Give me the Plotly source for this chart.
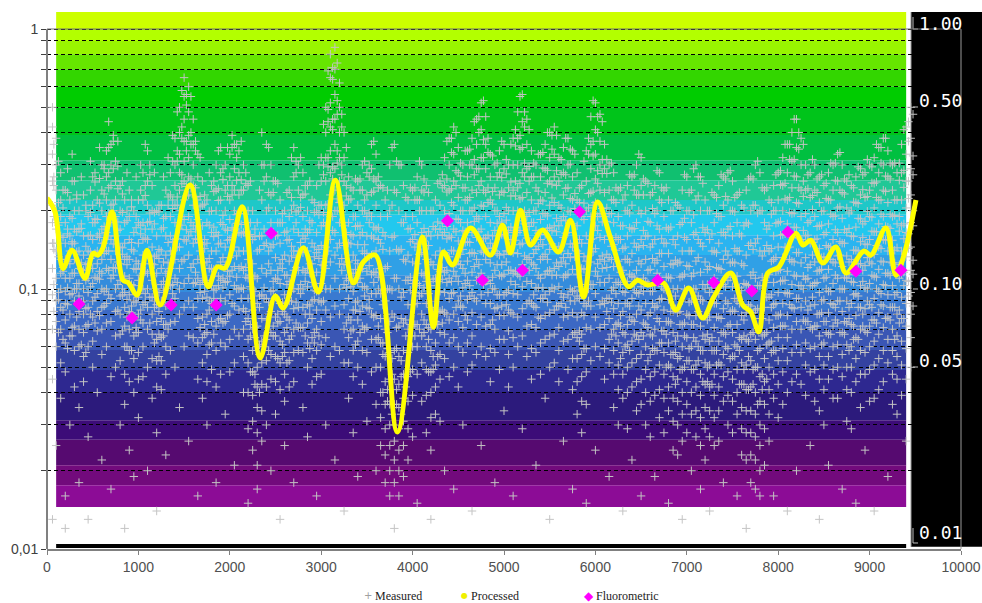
import plotly.graph_objects as go

# ---------------- data ----------------
proc_x = [0, 88, 175, 274, 416, 504, 559, 613, 712, 832, 887, 986, 1095, 1238, 1566, 1763, 1862, 1950,
          2136, 2333, 2497, 2585, 2804, 2968, 3154, 3352, 3461, 3593, 3834, 4107, 4228, 4337, 4436, 4633,
          4852, 4984, 5071, 5181, 5290, 5422, 5597, 5728, 5871, 6024, 6166, 6363, 6462, 6572, 6747, 6879,
          7021, 7174, 7295, 7481, 7612, 7700, 7788, 7886, 8007, 8193, 8270, 8357, 8489, 8631, 8741, 8938,
          9014, 9178, 9288, 9376, 9507]
proc_y = [0.224, 0.198, 0.120, 0.141, 0.110, 0.137, 0.135, 0.144, 0.198, 0.108, 0.106, 0.0948, 0.141,
          0.0868, 0.251, 0.102, 0.1216, 0.1205, 0.207, 0.0543, 0.094, 0.0845, 0.144, 0.0974, 0.262, 0.1055,
          0.127, 0.135, 0.0282, 0.1585, 0.0714, 0.1388, 0.1237, 0.1717, 0.135, 0.176, 0.1375, 0.201, 0.1476,
          0.1686, 0.1388, 0.184, 0.0931, 0.216, 0.157, 0.102, 0.108, 0.1036, 0.1055, 0.083, 0.1009, 0.0773,
          0.0931, 0.1153, 0.0868, 0.0816, 0.0684, 0.1153, 0.1216, 0.164, 0.1476, 0.154, 0.126, 0.145, 0.1153,
          0.14, 0.135, 0.1717, 0.113, 0.135, 0.22]

fluor_x = [350, 931, 1358, 1851, 2453, 4381, 4764, 5203, 5827, 6681, 7295, 7711, 8105, 8850, 9343]
fluor_y = [0.0875, 0.0773, 0.0868, 0.0868, 0.164, 0.183, 0.108, 0.118, 0.198, 0.108, 0.106, 0.0982,
           0.1656, 0.117, 0.118]

measured_columns = [
    (60, [0.5, 0.42, 0.33, 0.26, 0.21, 0.18, 0.15, 0.12, 0.095, 0.07, 0.045, 0.013]),
    (100, [0.38, 0.3, 0.24, 0.2, 0.17, 0.14, 0.11, 0.09, 0.075, 0.06, 0.025]),
    (150, [0.28, 0.22, 0.19, 0.16, 0.13, 0.115, 0.1, 0.085, 0.07, 0.052, 0.038]),
    (200, [0.24, 0.18, 0.15, 0.13, 0.11, 0.098, 0.088, 0.076, 0.062, 0.048, 0.016, 0.012]),
    (250, [0.22, 0.19, 0.16, 0.14, 0.125, 0.11, 0.095, 0.08, 0.066, 0.03]),
    (300, [0.26, 0.2, 0.17, 0.15, 0.13, 0.115, 0.1, 0.09, 0.072, 0.058, 0.042]),
    (350, [0.2, 0.17, 0.14, 0.12, 0.105, 0.094, 0.082, 0.07, 0.06, 0.035, 0.018]),
    (400, [0.23, 0.16, 0.135, 0.118, 0.1, 0.09, 0.08, 0.068, 0.055, 0.044]),
    (450, [0.19, 0.16, 0.14, 0.125, 0.11, 0.097, 0.085, 0.073, 0.06, 0.027, 0.013]),
    (500, [0.27, 0.21, 0.18, 0.155, 0.135, 0.12, 0.105, 0.09, 0.078, 0.063, 0.05]),
    (550, [0.22, 0.185, 0.16, 0.14, 0.125, 0.11, 0.096, 0.082, 0.069, 0.04]),
    (600, [0.3, 0.24, 0.2, 0.17, 0.15, 0.13, 0.115, 0.1, 0.085, 0.07, 0.056, 0.022]),
    (650, [0.34, 0.27, 0.22, 0.19, 0.165, 0.14, 0.12, 0.1, 0.088, 0.074, 0.06]),
    (700, [0.36, 0.3, 0.25, 0.21, 0.18, 0.155, 0.13, 0.11, 0.092, 0.075, 0.046, 0.017]),
    (750, [0.31, 0.26, 0.22, 0.19, 0.16, 0.14, 0.12, 0.1, 0.082, 0.066, 0.05]),
    (800, [0.25, 0.2, 0.17, 0.145, 0.125, 0.108, 0.094, 0.08, 0.067, 0.053, 0.03]),
    (850, [0.22, 0.18, 0.15, 0.13, 0.112, 0.097, 0.085, 0.072, 0.06, 0.047, 0.036, 0.012]),
    (900, [0.24, 0.19, 0.155, 0.13, 0.11, 0.095, 0.082, 0.07, 0.058, 0.044, 0.024]),
    (950, [0.2, 0.165, 0.14, 0.12, 0.103, 0.09, 0.078, 0.066, 0.054, 0.04, 0.019]),
    (1000, [0.22, 0.18, 0.15, 0.125, 0.108, 0.093, 0.08, 0.068, 0.057, 0.045, 0.032]),
    (1050, [0.28, 0.22, 0.18, 0.155, 0.135, 0.115, 0.1, 0.087, 0.074, 0.06, 0.046]),
    (1100, [0.34, 0.26, 0.21, 0.18, 0.155, 0.135, 0.115, 0.1, 0.085, 0.07, 0.05, 0.02]),
    (1150, [0.25, 0.2, 0.17, 0.145, 0.125, 0.108, 0.093, 0.08, 0.067, 0.054, 0.038]),
    (1200, [0.2, 0.16, 0.135, 0.115, 0.1, 0.087, 0.075, 0.064, 0.053, 0.042, 0.028, 0.014]),
    (1250, [0.21, 0.17, 0.14, 0.12, 0.104, 0.09, 0.077, 0.065, 0.053, 0.041]),
    (1300, [0.24, 0.19, 0.16, 0.135, 0.115, 0.1, 0.086, 0.073, 0.06, 0.047, 0.023]),
    (1350, [0.28, 0.23, 0.19, 0.16, 0.14, 0.12, 0.103, 0.088, 0.074, 0.058]),
    (1400, [0.38, 0.3, 0.25, 0.21, 0.18, 0.155, 0.13, 0.11, 0.092, 0.075, 0.05]),
    (1450, [0.5, 0.4, 0.33, 0.28, 0.24, 0.2, 0.17, 0.145, 0.12, 0.1, 0.08, 0.035]),
    (1500, [0.65, 0.55, 0.45, 0.37, 0.31, 0.26, 0.22, 0.185, 0.155, 0.13, 0.105, 0.085, 0.06]),
    (1550, [0.6, 0.48, 0.39, 0.32, 0.27, 0.23, 0.19, 0.16, 0.135, 0.11, 0.09, 0.066, 0.026]),
    (1600, [0.45, 0.36, 0.3, 0.25, 0.21, 0.175, 0.15, 0.125, 0.105, 0.085, 0.065]),
    (1650, [0.33, 0.27, 0.22, 0.185, 0.155, 0.13, 0.11, 0.092, 0.077, 0.062, 0.045, 0.016]),
    (1700, [0.26, 0.21, 0.175, 0.148, 0.126, 0.108, 0.092, 0.078, 0.065, 0.052, 0.038]),
    (1750, [0.22, 0.18, 0.15, 0.127, 0.108, 0.093, 0.08, 0.068, 0.056, 0.044, 0.03]),
    (1800, [0.25, 0.2, 0.165, 0.14, 0.12, 0.103, 0.088, 0.075, 0.062, 0.049]),
    (1850, [0.3, 0.24, 0.2, 0.165, 0.14, 0.12, 0.1, 0.086, 0.072, 0.058, 0.042, 0.018]),
    (1900, [0.35, 0.28, 0.22, 0.18, 0.15, 0.127, 0.108, 0.092, 0.077, 0.062, 0.047]),
    (1950, [0.3, 0.24, 0.2, 0.17, 0.145, 0.124, 0.106, 0.09, 0.075, 0.06, 0.033]),
    (2000, [0.33, 0.27, 0.22, 0.185, 0.155, 0.132, 0.112, 0.095, 0.08, 0.064, 0.048]),
    (2050, [0.36, 0.29, 0.24, 0.2, 0.17, 0.145, 0.122, 0.103, 0.086, 0.07, 0.052, 0.021]),
    (2100, [0.34, 0.28, 0.23, 0.195, 0.165, 0.14, 0.12, 0.1, 0.083, 0.066]),
    (2150, [0.3, 0.24, 0.2, 0.165, 0.14, 0.118, 0.1, 0.084, 0.07, 0.055, 0.04]),
    (2200, [0.25, 0.2, 0.16, 0.13, 0.11, 0.092, 0.077, 0.064, 0.052, 0.04, 0.029, 0.015]),
    (2250, [0.2, 0.155, 0.125, 0.1, 0.083, 0.07, 0.058, 0.048, 0.039, 0.031, 0.024]),
    (2300, [0.18, 0.14, 0.11, 0.088, 0.072, 0.06, 0.05, 0.042, 0.035, 0.028, 0.021, 0.017]),
    (2350, [0.4, 0.3, 0.22, 0.16, 0.12, 0.095, 0.077, 0.063, 0.052, 0.043, 0.034, 0.026]),
    (2400, [0.36, 0.27, 0.2, 0.15, 0.115, 0.092, 0.076, 0.064, 0.053, 0.042, 0.03]),
    (2450, [0.3, 0.23, 0.18, 0.145, 0.118, 0.098, 0.082, 0.068, 0.056, 0.045, 0.02]),
    (2500, [0.26, 0.2, 0.16, 0.132, 0.11, 0.093, 0.078, 0.066, 0.055, 0.044, 0.033]),
    (2550, [0.22, 0.18, 0.15, 0.125, 0.105, 0.088, 0.075, 0.063, 0.052, 0.041, 0.013]),
    (2600, [0.2, 0.165, 0.135, 0.113, 0.095, 0.08, 0.068, 0.057, 0.047, 0.037, 0.025]),
    (2650, [0.24, 0.19, 0.155, 0.128, 0.107, 0.09, 0.076, 0.064, 0.053, 0.042]),
    (2700, [0.35, 0.27, 0.21, 0.17, 0.14, 0.118, 0.1, 0.084, 0.07, 0.057, 0.044, 0.018]),
    (2750, [0.3, 0.24, 0.2, 0.165, 0.14, 0.118, 0.1, 0.085, 0.071, 0.058]),
    (2800, [0.28, 0.23, 0.19, 0.16, 0.138, 0.118, 0.1, 0.085, 0.071, 0.057, 0.035]),
    (2850, [0.25, 0.2, 0.165, 0.14, 0.12, 0.102, 0.087, 0.074, 0.062, 0.05, 0.027]),
    (2900, [0.22, 0.18, 0.15, 0.125, 0.106, 0.09, 0.077, 0.065, 0.054, 0.043]),
    (2950, [0.25, 0.2, 0.165, 0.138, 0.116, 0.098, 0.083, 0.07, 0.058, 0.046, 0.016]),
    (3000, [0.32, 0.26, 0.21, 0.175, 0.147, 0.124, 0.105, 0.089, 0.075, 0.061, 0.047]),
    (3050, [0.5, 0.4, 0.32, 0.26, 0.21, 0.175, 0.145, 0.12, 0.1, 0.083, 0.065, 0.03]),
    (3100, [0.8, 0.65, 0.52, 0.42, 0.34, 0.28, 0.23, 0.19, 0.155, 0.127, 0.1, 0.078, 0.055]),
    (3150, [0.85, 0.7, 0.56, 0.45, 0.36, 0.29, 0.24, 0.2, 0.165, 0.135, 0.11, 0.086, 0.06, 0.022]),
    (3200, [0.62, 0.5, 0.4, 0.32, 0.26, 0.215, 0.18, 0.15, 0.125, 0.1, 0.08, 0.058]),
    (3250, [0.4, 0.32, 0.26, 0.21, 0.175, 0.147, 0.124, 0.104, 0.087, 0.07, 0.052, 0.014]),
    (3300, [0.27, 0.22, 0.18, 0.15, 0.127, 0.108, 0.092, 0.078, 0.065, 0.052, 0.038]),
    (3350, [0.24, 0.19, 0.16, 0.135, 0.115, 0.098, 0.083, 0.07, 0.058, 0.046, 0.028]),
    (3400, [0.26, 0.21, 0.175, 0.148, 0.125, 0.106, 0.09, 0.076, 0.063, 0.05, 0.019]),
    (3450, [0.3, 0.24, 0.2, 0.165, 0.14, 0.12, 0.102, 0.086, 0.072, 0.058, 0.043]),
    (3500, [0.28, 0.23, 0.19, 0.16, 0.137, 0.117, 0.1, 0.085, 0.071, 0.057, 0.031]),
    (3550, [0.36, 0.29, 0.235, 0.19, 0.16, 0.135, 0.114, 0.096, 0.08, 0.064, 0.048]),
    (3600, [0.33, 0.26, 0.21, 0.17, 0.14, 0.116, 0.096, 0.079, 0.064, 0.05, 0.036, 0.02]),
    (3650, [0.25, 0.19, 0.15, 0.12, 0.096, 0.077, 0.062, 0.05, 0.04, 0.032, 0.025]),
    (3700, [0.22, 0.16, 0.12, 0.09, 0.07, 0.055, 0.044, 0.036, 0.029, 0.023, 0.018]),
    (3750, [0.3, 0.2, 0.14, 0.1, 0.075, 0.057, 0.045, 0.036, 0.03, 0.025, 0.02, 0.016]),
    (3800, [0.36, 0.24, 0.16, 0.11, 0.078, 0.058, 0.045, 0.036, 0.03, 0.026, 0.022, 0.018, 0.012]),
    (3850, [0.3, 0.2, 0.14, 0.1, 0.072, 0.055, 0.043, 0.035, 0.029, 0.024, 0.02, 0.016]),
    (3900, [0.25, 0.18, 0.13, 0.097, 0.074, 0.058, 0.047, 0.038, 0.031, 0.025, 0.019]),
    (3950, [0.22, 0.17, 0.135, 0.108, 0.087, 0.07, 0.057, 0.046, 0.037, 0.029, 0.022]),
    (4000, [0.24, 0.19, 0.155, 0.127, 0.105, 0.087, 0.072, 0.06, 0.049, 0.039, 0.027]),
    (4050, [0.27, 0.22, 0.18, 0.15, 0.125, 0.105, 0.088, 0.073, 0.06, 0.047, 0.015]),
    (4100, [0.3, 0.24, 0.2, 0.165, 0.138, 0.115, 0.096, 0.08, 0.066, 0.052, 0.037]),
    (4150, [0.25, 0.2, 0.16, 0.13, 0.107, 0.088, 0.073, 0.06, 0.049, 0.039, 0.028]),
    (4200, [0.2, 0.16, 0.127, 0.103, 0.085, 0.07, 0.058, 0.048, 0.04, 0.032, 0.024, 0.013]),
    (4250, [0.22, 0.17, 0.135, 0.11, 0.09, 0.075, 0.062, 0.051, 0.042, 0.033]),
    (4300, [0.26, 0.21, 0.17, 0.14, 0.117, 0.098, 0.082, 0.068, 0.056, 0.045, 0.031]),
    (4350, [0.32, 0.25, 0.2, 0.165, 0.138, 0.116, 0.097, 0.081, 0.067, 0.054, 0.02]),
    (4400, [0.38, 0.3, 0.24, 0.195, 0.16, 0.133, 0.11, 0.092, 0.076, 0.062, 0.046]),
    (4450, [0.42, 0.33, 0.26, 0.21, 0.17, 0.14, 0.117, 0.097, 0.08, 0.065, 0.05, 0.017]),
    (4500, [0.35, 0.28, 0.225, 0.185, 0.153, 0.128, 0.107, 0.09, 0.075, 0.06, 0.042]),
    (4550, [0.3, 0.245, 0.2, 0.168, 0.142, 0.12, 0.101, 0.085, 0.071, 0.057, 0.03]),
    (4600, [0.34, 0.27, 0.22, 0.18, 0.152, 0.128, 0.108, 0.091, 0.076, 0.062, 0.048]),
    (4650, [0.38, 0.3, 0.24, 0.2, 0.165, 0.138, 0.116, 0.097, 0.081, 0.066, 0.051, 0.014]),
    (4700, [0.45, 0.36, 0.29, 0.235, 0.19, 0.158, 0.13, 0.108, 0.09, 0.073, 0.056]),
    (4750, [0.52, 0.41, 0.32, 0.26, 0.21, 0.17, 0.14, 0.115, 0.095, 0.078, 0.06, 0.025]),
    (4800, [0.46, 0.36, 0.29, 0.235, 0.19, 0.157, 0.13, 0.107, 0.088, 0.072, 0.055]),
    (4850, [0.33, 0.27, 0.22, 0.18, 0.15, 0.126, 0.105, 0.088, 0.073, 0.059, 0.044]),
    (4900, [0.3, 0.245, 0.2, 0.168, 0.14, 0.118, 0.1, 0.084, 0.07, 0.057, 0.018]),
    (4950, [0.34, 0.28, 0.23, 0.19, 0.16, 0.135, 0.113, 0.095, 0.079, 0.064, 0.049]),
    (5000, [0.36, 0.29, 0.235, 0.195, 0.162, 0.136, 0.114, 0.095, 0.079, 0.064, 0.034]),
    (5050, [0.3, 0.245, 0.2, 0.168, 0.14, 0.118, 0.099, 0.083, 0.069, 0.056, 0.042]),
    (5100, [0.38, 0.3, 0.24, 0.2, 0.165, 0.138, 0.115, 0.096, 0.08, 0.065, 0.05, 0.016]),
    (5150, [0.48, 0.38, 0.3, 0.245, 0.2, 0.165, 0.137, 0.114, 0.095, 0.078, 0.06]),
    (5200, [0.56, 0.44, 0.35, 0.28, 0.225, 0.183, 0.15, 0.124, 0.102, 0.084, 0.066, 0.029]),
    (5250, [0.45, 0.36, 0.29, 0.235, 0.19, 0.157, 0.13, 0.107, 0.088, 0.072, 0.055]),
    (5300, [0.34, 0.27, 0.22, 0.18, 0.15, 0.126, 0.105, 0.088, 0.073, 0.059, 0.045]),
    (5350, [0.3, 0.245, 0.2, 0.168, 0.142, 0.12, 0.101, 0.085, 0.071, 0.057, 0.021]),
    (5400, [0.33, 0.27, 0.22, 0.185, 0.155, 0.13, 0.11, 0.092, 0.077, 0.062, 0.047]),
    (5450, [0.36, 0.29, 0.235, 0.195, 0.162, 0.136, 0.114, 0.095, 0.079, 0.064, 0.038]),
    (5500, [0.4, 0.32, 0.26, 0.21, 0.172, 0.142, 0.118, 0.098, 0.081, 0.066, 0.05, 0.013]),
    (5550, [0.42, 0.33, 0.27, 0.215, 0.175, 0.145, 0.12, 0.1, 0.083, 0.067, 0.052]),
    (5600, [0.32, 0.26, 0.21, 0.175, 0.146, 0.122, 0.102, 0.086, 0.071, 0.058, 0.044]),
    (5650, [0.35, 0.28, 0.23, 0.19, 0.158, 0.132, 0.111, 0.093, 0.078, 0.063, 0.026]),
    (5700, [0.38, 0.3, 0.245, 0.2, 0.165, 0.137, 0.114, 0.095, 0.079, 0.064, 0.049]),
    (5750, [0.34, 0.27, 0.22, 0.178, 0.145, 0.119, 0.098, 0.081, 0.067, 0.054, 0.041, 0.017]),
    (5800, [0.28, 0.22, 0.175, 0.14, 0.114, 0.094, 0.078, 0.065, 0.054, 0.044, 0.033]),
    (5850, [0.25, 0.19, 0.15, 0.12, 0.098, 0.081, 0.067, 0.056, 0.046, 0.037, 0.028]),
    (5900, [0.34, 0.26, 0.2, 0.16, 0.128, 0.104, 0.086, 0.071, 0.059, 0.048, 0.036, 0.015]),
    (5950, [0.46, 0.36, 0.29, 0.235, 0.19, 0.155, 0.127, 0.104, 0.086, 0.07, 0.053]),
    (6000, [0.52, 0.41, 0.33, 0.265, 0.215, 0.175, 0.143, 0.117, 0.096, 0.078, 0.06, 0.024]),
    (6050, [0.47, 0.37, 0.3, 0.24, 0.195, 0.158, 0.13, 0.106, 0.087, 0.071, 0.055]),
    (6100, [0.36, 0.29, 0.235, 0.19, 0.155, 0.128, 0.106, 0.088, 0.073, 0.059, 0.045]),
    (6150, [0.3, 0.24, 0.195, 0.16, 0.132, 0.11, 0.092, 0.077, 0.064, 0.052, 0.019]),
    (6200, [0.28, 0.22, 0.18, 0.148, 0.122, 0.101, 0.084, 0.07, 0.058, 0.047, 0.035]),
    (6250, [0.24, 0.19, 0.155, 0.128, 0.106, 0.088, 0.074, 0.062, 0.051, 0.041, 0.03]),
    (6300, [0.22, 0.175, 0.143, 0.118, 0.098, 0.082, 0.068, 0.057, 0.047, 0.038, 0.014]),
    (6350, [0.25, 0.2, 0.16, 0.13, 0.107, 0.088, 0.073, 0.061, 0.05, 0.04, 0.029]),
    (6400, [0.27, 0.21, 0.17, 0.137, 0.112, 0.092, 0.076, 0.063, 0.052, 0.042, 0.022]),
    (6450, [0.3, 0.23, 0.18, 0.145, 0.118, 0.097, 0.08, 0.066, 0.054, 0.044, 0.034]),
    (6500, [0.32, 0.25, 0.195, 0.155, 0.125, 0.102, 0.083, 0.068, 0.056, 0.045, 0.036, 0.016]),
    (6550, [0.26, 0.2, 0.16, 0.13, 0.107, 0.088, 0.073, 0.06, 0.049, 0.04, 0.03]),
    (6600, [0.23, 0.18, 0.145, 0.119, 0.098, 0.081, 0.067, 0.056, 0.046, 0.037, 0.027]),
    (6650, [0.25, 0.195, 0.155, 0.126, 0.103, 0.085, 0.07, 0.058, 0.048, 0.039, 0.019]),
    (6700, [0.28, 0.22, 0.17, 0.137, 0.111, 0.091, 0.075, 0.062, 0.051, 0.041, 0.032]),
    (6750, [0.24, 0.19, 0.15, 0.122, 0.1, 0.083, 0.069, 0.057, 0.047, 0.038, 0.028]),
    (6800, [0.22, 0.17, 0.137, 0.111, 0.091, 0.075, 0.062, 0.051, 0.042, 0.034, 0.015]),
    (6850, [0.2, 0.155, 0.124, 0.1, 0.082, 0.068, 0.056, 0.046, 0.038, 0.031, 0.024]),
    (6900, [0.21, 0.16, 0.126, 0.1, 0.081, 0.066, 0.054, 0.045, 0.037, 0.03, 0.023]),
    (6950, [0.24, 0.18, 0.14, 0.112, 0.09, 0.073, 0.06, 0.049, 0.04, 0.033, 0.026, 0.013]),
    (7000, [0.27, 0.2, 0.155, 0.123, 0.099, 0.08, 0.065, 0.053, 0.044, 0.036, 0.028]),
    (7050, [0.24, 0.18, 0.14, 0.112, 0.09, 0.073, 0.06, 0.049, 0.04, 0.033, 0.02]),
    (7100, [0.3, 0.22, 0.165, 0.128, 0.1, 0.079, 0.063, 0.051, 0.042, 0.034, 0.027]),
    (7150, [0.27, 0.2, 0.15, 0.116, 0.091, 0.072, 0.058, 0.047, 0.039, 0.032, 0.025, 0.017]),
    (7200, [0.22, 0.165, 0.127, 0.1, 0.079, 0.064, 0.052, 0.043, 0.035, 0.029, 0.022]),
    (7250, [0.2, 0.155, 0.122, 0.097, 0.078, 0.063, 0.051, 0.042, 0.034, 0.027, 0.014]),
    (7300, [0.23, 0.18, 0.14, 0.11, 0.088, 0.071, 0.058, 0.047, 0.039, 0.032, 0.025]),
    (7350, [0.25, 0.19, 0.15, 0.12, 0.096, 0.078, 0.063, 0.052, 0.042, 0.034, 0.026]),
    (7400, [0.27, 0.21, 0.165, 0.13, 0.104, 0.084, 0.068, 0.056, 0.046, 0.037, 0.018]),
    (7450, [0.28, 0.22, 0.17, 0.135, 0.108, 0.088, 0.072, 0.059, 0.048, 0.039, 0.03]),
    (7500, [0.26, 0.2, 0.16, 0.127, 0.102, 0.083, 0.068, 0.055, 0.045, 0.037, 0.028]),
    (7550, [0.23, 0.18, 0.14, 0.112, 0.09, 0.073, 0.06, 0.049, 0.04, 0.033, 0.016]),
    (7600, [0.21, 0.16, 0.125, 0.099, 0.079, 0.064, 0.052, 0.043, 0.035, 0.029, 0.023]),
    (7650, [0.24, 0.18, 0.135, 0.104, 0.081, 0.064, 0.051, 0.041, 0.034, 0.028, 0.022, 0.012]),
    (7700, [0.27, 0.2, 0.15, 0.113, 0.086, 0.067, 0.053, 0.042, 0.034, 0.028, 0.023, 0.018]),
    (7750, [0.3, 0.21, 0.15, 0.11, 0.083, 0.064, 0.05, 0.04, 0.033, 0.027, 0.022, 0.017]),
    (7800, [0.28, 0.2, 0.14, 0.103, 0.077, 0.059, 0.046, 0.037, 0.03, 0.025, 0.02, 0.016]),
    (7850, [0.24, 0.18, 0.14, 0.108, 0.085, 0.067, 0.054, 0.044, 0.036, 0.029, 0.021]),
    (7900, [0.22, 0.175, 0.14, 0.114, 0.093, 0.076, 0.062, 0.05, 0.041, 0.033, 0.026]),
    (7950, [0.25, 0.2, 0.16, 0.13, 0.106, 0.087, 0.071, 0.058, 0.047, 0.038, 0.016]),
    (8000, [0.28, 0.22, 0.18, 0.145, 0.118, 0.097, 0.079, 0.065, 0.053, 0.043, 0.032]),
    (8050, [0.32, 0.25, 0.2, 0.162, 0.132, 0.108, 0.088, 0.072, 0.059, 0.048, 0.036]),
    (8100, [0.36, 0.28, 0.22, 0.178, 0.144, 0.117, 0.096, 0.079, 0.065, 0.053, 0.04, 0.014]),
    (8150, [0.4, 0.31, 0.245, 0.195, 0.158, 0.128, 0.104, 0.085, 0.07, 0.057, 0.044]),
    (8200, [0.45, 0.35, 0.27, 0.215, 0.172, 0.138, 0.112, 0.092, 0.075, 0.061, 0.047, 0.02]),
    (8250, [0.38, 0.3, 0.24, 0.19, 0.155, 0.126, 0.103, 0.085, 0.07, 0.057, 0.043]),
    (8300, [0.3, 0.24, 0.195, 0.16, 0.132, 0.109, 0.09, 0.075, 0.062, 0.051, 0.039]),
    (8350, [0.28, 0.225, 0.183, 0.15, 0.124, 0.103, 0.086, 0.071, 0.059, 0.048, 0.025]),
    (8400, [0.3, 0.24, 0.19, 0.155, 0.127, 0.105, 0.087, 0.072, 0.06, 0.049, 0.037]),
    (8450, [0.27, 0.215, 0.175, 0.143, 0.118, 0.097, 0.08, 0.066, 0.055, 0.045, 0.034, 0.013]),
    (8500, [0.25, 0.2, 0.162, 0.133, 0.11, 0.091, 0.075, 0.062, 0.051, 0.041, 0.03]),
    (8550, [0.28, 0.22, 0.178, 0.145, 0.119, 0.098, 0.081, 0.067, 0.055, 0.045, 0.021]),
    (8600, [0.3, 0.24, 0.19, 0.155, 0.127, 0.105, 0.087, 0.072, 0.06, 0.049, 0.038]),
    (8650, [0.33, 0.26, 0.205, 0.165, 0.134, 0.11, 0.09, 0.074, 0.061, 0.05, 0.038]),
    (8700, [0.3, 0.235, 0.187, 0.15, 0.122, 0.1, 0.082, 0.068, 0.056, 0.046, 0.017]),
    (8750, [0.26, 0.205, 0.165, 0.134, 0.11, 0.09, 0.074, 0.061, 0.05, 0.041, 0.031]),
    (8800, [0.25, 0.2, 0.16, 0.13, 0.107, 0.088, 0.073, 0.06, 0.05, 0.04, 0.029]),
    (8850, [0.27, 0.215, 0.173, 0.141, 0.116, 0.096, 0.079, 0.065, 0.054, 0.044, 0.015]),
    (8900, [0.29, 0.23, 0.186, 0.152, 0.125, 0.103, 0.085, 0.07, 0.058, 0.047, 0.035]),
    (8950, [0.28, 0.225, 0.182, 0.149, 0.123, 0.101, 0.084, 0.069, 0.057, 0.047, 0.024]),
    (9000, [0.3, 0.24, 0.19, 0.155, 0.127, 0.105, 0.087, 0.072, 0.06, 0.049, 0.037]),
    (9050, [0.32, 0.255, 0.205, 0.166, 0.136, 0.112, 0.092, 0.076, 0.063, 0.051, 0.038, 0.014]),
    (9100, [0.35, 0.28, 0.22, 0.178, 0.145, 0.119, 0.098, 0.081, 0.067, 0.054, 0.041]),
    (9150, [0.38, 0.3, 0.24, 0.19, 0.155, 0.127, 0.104, 0.086, 0.071, 0.058, 0.044]),
    (9200, [0.34, 0.27, 0.215, 0.173, 0.14, 0.115, 0.095, 0.078, 0.064, 0.052, 0.019]),
    (9250, [0.3, 0.24, 0.19, 0.154, 0.126, 0.103, 0.085, 0.07, 0.058, 0.047, 0.036]),
    (9300, [0.28, 0.22, 0.178, 0.144, 0.118, 0.097, 0.08, 0.066, 0.055, 0.045, 0.033]),
    (9350, [0.36, 0.28, 0.22, 0.175, 0.14, 0.114, 0.093, 0.077, 0.063, 0.051, 0.039]),
    (9400, [0.42, 0.33, 0.26, 0.205, 0.165, 0.133, 0.108, 0.088, 0.072, 0.059, 0.045, 0.026]),
    (9450, [0.5, 0.38, 0.29, 0.23, 0.18, 0.145, 0.118, 0.097, 0.08, 0.065, 0.05]),
]

measured_columns_dense = [
    (75, [0.36, 0.27, 0.25, 0.19, 0.15, 0.142, 0.104, 0.082]),
    (125, [0.31, 0.215, 0.18, 0.176, 0.133, 0.097, 0.091, 0.068]),
    (175, [0.24, 0.205, 0.158, 0.121, 0.117, 0.083, 0.064]),
    (225, [0.29, 0.235, 0.17, 0.163, 0.128, 0.101, 0.087, 0.059]),
    (275, [0.33, 0.26, 0.187, 0.152, 0.149, 0.115, 0.096, 0.071, 0.066]),
    (325, [0.23, 0.222, 0.166, 0.139, 0.105, 0.1, 0.078]),
    (375, [0.27, 0.178, 0.171, 0.126, 0.119, 0.089, 0.061]),
    (425, [0.21, 0.2, 0.146, 0.124, 0.108, 0.084, 0.072, 0.057]),
    (475, [0.31, 0.24, 0.197, 0.161, 0.139, 0.131, 0.102, 0.08]),
    (525, [0.28, 0.258, 0.186, 0.18, 0.137, 0.111, 0.093, 0.074]),
    (575, [0.35, 0.266, 0.214, 0.163, 0.158, 0.117, 0.109, 0.079]),
    (625, [0.3, 0.29, 0.232, 0.174, 0.15, 0.137, 0.098, 0.086]),
    (675, [0.44, 0.35, 0.28, 0.245, 0.196, 0.16, 0.14, 0.118, 0.095]),
    (725, [0.39, 0.37, 0.29, 0.212, 0.2, 0.149, 0.121, 0.113]),
    (775, [0.37, 0.297, 0.243, 0.181, 0.168, 0.127, 0.104, 0.083]),
    (825, [0.26, 0.232, 0.197, 0.144, 0.136, 0.1, 0.095, 0.069]),
    (875, [0.28, 0.2, 0.183, 0.133, 0.124, 0.091, 0.078, 0.06]),
    (925, [0.22, 0.207, 0.151, 0.142, 0.104, 0.086, 0.081, 0.058]),
    (975, [0.27, 0.19, 0.172, 0.128, 0.119, 0.089, 0.071, 0.068]),
    (1025, [0.3, 0.24, 0.176, 0.163, 0.12, 0.113, 0.083, 0.076]),
    (1075, [0.36, 0.25, 0.229, 0.17, 0.157, 0.117, 0.096, 0.089]),
    (1125, [0.3, 0.275, 0.196, 0.182, 0.134, 0.125, 0.093, 0.074]),
    (1175, [0.28, 0.197, 0.178, 0.133, 0.124, 0.09, 0.085, 0.062]),
    (1225, [0.21, 0.198, 0.142, 0.131, 0.097, 0.082, 0.067, 0.055]),
    (1275, [0.27, 0.187, 0.172, 0.127, 0.107, 0.099, 0.073, 0.066]),
    (1325, [0.32, 0.226, 0.21, 0.151, 0.126, 0.117, 0.087, 0.07]),
    (1375, [0.39, 0.31, 0.22, 0.204, 0.152, 0.14, 0.104, 0.096]),
    (1425, [0.48, 0.34, 0.31, 0.226, 0.21, 0.156, 0.145, 0.106]),
    (1475, [0.58, 0.42, 0.38, 0.275, 0.254, 0.19, 0.176, 0.128]),
    (1525, [0.56, 0.51, 0.37, 0.34, 0.248, 0.228, 0.169, 0.153]),
    (1575, [0.55, 0.4, 0.36, 0.265, 0.244, 0.18, 0.166, 0.121]),
    (1625, [0.37, 0.34, 0.245, 0.226, 0.17, 0.156, 0.116, 0.106]),
    (1675, [0.32, 0.227, 0.207, 0.151, 0.14, 0.104, 0.097, 0.071]),
    (1725, [0.23, 0.212, 0.155, 0.143, 0.106, 0.098, 0.073, 0.067]),
    (1775, [0.28, 0.199, 0.176, 0.131, 0.12, 0.09, 0.083, 0.061]),
    (1825, [0.26, 0.237, 0.173, 0.159, 0.119, 0.099, 0.092, 0.067]),
    (1875, [0.34, 0.243, 0.219, 0.161, 0.149, 0.112, 0.103, 0.076]),
    (1925, [0.29, 0.264, 0.192, 0.177, 0.132, 0.11, 0.101, 0.074]),
    (1975, [0.35, 0.25, 0.227, 0.168, 0.154, 0.117, 0.107, 0.079]),
    (2025, [0.39, 0.35, 0.25, 0.23, 0.172, 0.158, 0.118, 0.088]),
    (2075, [0.36, 0.32, 0.262, 0.193, 0.179, 0.134, 0.111, 0.1]),
    (2125, [0.37, 0.263, 0.24, 0.177, 0.163, 0.122, 0.101, 0.092]),
    (2175, [0.28, 0.254, 0.18, 0.166, 0.121, 0.111, 0.082, 0.075]),
    (2225, [0.26, 0.18, 0.162, 0.113, 0.102, 0.073, 0.066, 0.048]),
    (2275, [0.17, 0.159, 0.112, 0.098, 0.071, 0.065, 0.047, 0.043]),
    (2325, [0.24, 0.16, 0.142, 0.094, 0.085, 0.061, 0.056, 0.04]),
    (2375, [0.3, 0.26, 0.17, 0.147, 0.101, 0.092, 0.066, 0.06]),
    (2425, [0.35, 0.235, 0.205, 0.14, 0.125, 0.089, 0.08, 0.058]),
    (2475, [0.26, 0.235, 0.165, 0.148, 0.107, 0.099, 0.072, 0.066]),
    (2525, [0.255, 0.18, 0.161, 0.118, 0.109, 0.08, 0.074, 0.054]),
    (2575, [0.195, 0.18, 0.13, 0.12, 0.089, 0.082, 0.061, 0.055]),
    (2625, [0.235, 0.167, 0.154, 0.113, 0.104, 0.078, 0.071, 0.052]),
    (2675, [0.32, 0.225, 0.201, 0.146, 0.134, 0.098, 0.09, 0.066]),
    (2725, [0.31, 0.28, 0.198, 0.18, 0.132, 0.121, 0.089, 0.074]),
    (2775, [0.32, 0.225, 0.206, 0.151, 0.139, 0.104, 0.096, 0.071]),
    (2825, [0.25, 0.232, 0.17, 0.156, 0.116, 0.107, 0.08, 0.066]),
    (2875, [0.26, 0.183, 0.169, 0.125, 0.115, 0.086, 0.08, 0.059]),
    (2925, [0.215, 0.197, 0.145, 0.133, 0.099, 0.091, 0.068, 0.062]),
    (2975, [0.3, 0.21, 0.193, 0.142, 0.131, 0.098, 0.09, 0.066]),
    (3025, [0.43, 0.3, 0.275, 0.197, 0.18, 0.134, 0.123, 0.09]),
    (3075, [0.69, 0.49, 0.44, 0.32, 0.295, 0.212, 0.193, 0.14]),
    (3125, [0.71, 0.64, 0.45, 0.41, 0.295, 0.265, 0.19, 0.168]),
    (3175, [0.74, 0.53, 0.47, 0.34, 0.305, 0.222, 0.2, 0.144]),
    (3225, [0.47, 0.42, 0.3, 0.275, 0.198, 0.18, 0.131, 0.118]),
    (3275, [0.35, 0.25, 0.228, 0.165, 0.151, 0.11, 0.101, 0.074]),
    (3325, [0.245, 0.222, 0.162, 0.149, 0.11, 0.102, 0.076, 0.069]),
    (3375, [0.265, 0.19, 0.174, 0.129, 0.119, 0.089, 0.083, 0.061]),
    (3425, [0.265, 0.24, 0.175, 0.161, 0.119, 0.11, 0.082, 0.068]),
    (3475, [0.31, 0.22, 0.2, 0.148, 0.137, 0.102, 0.094, 0.07]),
    (3525, [0.3, 0.27, 0.196, 0.18, 0.133, 0.123, 0.091, 0.084]),
    (3575, [0.37, 0.265, 0.238, 0.173, 0.157, 0.116, 0.106, 0.078]),
    (3625, [0.27, 0.245, 0.172, 0.155, 0.111, 0.1, 0.072, 0.065]),
    (3675, [0.245, 0.165, 0.142, 0.099, 0.087, 0.062, 0.056, 0.04]),
    (3725, [0.24, 0.19, 0.122, 0.1, 0.068, 0.059, 0.041, 0.037]),
    (3775, [0.35, 0.21, 0.158, 0.099, 0.08, 0.054, 0.047, 0.033]),
    (3825, [0.31, 0.235, 0.142, 0.11, 0.071, 0.059, 0.041, 0.036]),
    (3875, [0.3, 0.18, 0.142, 0.093, 0.077, 0.053, 0.046, 0.033]),
    (3925, [0.225, 0.19, 0.128, 0.108, 0.076, 0.066, 0.047, 0.042]),
    (3975, [0.245, 0.171, 0.152, 0.111, 0.099, 0.073, 0.066, 0.048]),
    (4025, [0.245, 0.22, 0.162, 0.145, 0.108, 0.097, 0.073, 0.066]),
    (4075, [0.31, 0.22, 0.2, 0.149, 0.136, 0.103, 0.094, 0.07]),
    (4125, [0.265, 0.236, 0.171, 0.153, 0.113, 0.101, 0.076, 0.068]),
    (4175, [0.235, 0.166, 0.147, 0.107, 0.096, 0.071, 0.064, 0.048]),
    (4225, [0.2, 0.174, 0.124, 0.109, 0.082, 0.073, 0.055, 0.049]),
    (4275, [0.255, 0.181, 0.161, 0.119, 0.107, 0.081, 0.073, 0.055]),
    (4325, [0.275, 0.245, 0.179, 0.161, 0.121, 0.109, 0.083, 0.074]),
    (4375, [0.37, 0.265, 0.236, 0.174, 0.156, 0.118, 0.106, 0.08]),
    (4425, [0.38, 0.335, 0.243, 0.215, 0.158, 0.141, 0.107, 0.096]),
    (4475, [0.4, 0.285, 0.25, 0.186, 0.166, 0.125, 0.112, 0.085]),
    (4525, [0.305, 0.272, 0.2, 0.18, 0.136, 0.124, 0.094, 0.086]),
    (4575, [0.34, 0.245, 0.22, 0.166, 0.151, 0.115, 0.105, 0.079]),
    (4625, [0.345, 0.3, 0.225, 0.2, 0.151, 0.137, 0.103, 0.094]),
    (4675, [0.44, 0.315, 0.275, 0.205, 0.182, 0.137, 0.122, 0.092]),
    (4725, [0.46, 0.4, 0.29, 0.25, 0.186, 0.166, 0.124, 0.111]),
    (4775, [0.53, 0.375, 0.32, 0.24, 0.208, 0.156, 0.138, 0.104]),
    (4825, [0.38, 0.335, 0.245, 0.215, 0.161, 0.143, 0.108, 0.097]),
    (4875, [0.325, 0.237, 0.212, 0.16, 0.144, 0.111, 0.1, 0.076]),
    (4925, [0.305, 0.27, 0.2, 0.179, 0.137, 0.124, 0.095, 0.085]),
    (4975, [0.37, 0.268, 0.238, 0.181, 0.162, 0.124, 0.112, 0.086]),
    (5025, [0.315, 0.277, 0.206, 0.184, 0.14, 0.127, 0.097, 0.087]),
    (5075, [0.36, 0.258, 0.228, 0.173, 0.155, 0.118, 0.107, 0.081]),
    (5125, [0.41, 0.355, 0.26, 0.228, 0.172, 0.154, 0.117, 0.104]),
    (5175, [0.55, 0.39, 0.345, 0.255, 0.222, 0.168, 0.148, 0.112]),
    (5225, [0.48, 0.42, 0.305, 0.27, 0.2, 0.178, 0.134, 0.12]),
    (5275, [0.41, 0.296, 0.26, 0.197, 0.174, 0.132, 0.118, 0.09]),
    (5325, [0.305, 0.27, 0.2, 0.18, 0.137, 0.124, 0.095, 0.086]),
    (5375, [0.33, 0.238, 0.213, 0.164, 0.146, 0.113, 0.101, 0.078]),
    (5425, [0.335, 0.292, 0.218, 0.195, 0.148, 0.133, 0.101, 0.092]),
    (5475, [0.4, 0.286, 0.255, 0.191, 0.171, 0.13, 0.117, 0.089]),
    (5525, [0.39, 0.345, 0.253, 0.224, 0.168, 0.149, 0.113, 0.101]),
    (5575, [0.39, 0.285, 0.25, 0.187, 0.166, 0.126, 0.113, 0.086]),
    (5625, [0.315, 0.276, 0.205, 0.183, 0.14, 0.127, 0.096, 0.088]),
    (5675, [0.38, 0.275, 0.244, 0.184, 0.164, 0.125, 0.113, 0.085]),
    (5725, [0.345, 0.302, 0.223, 0.198, 0.149, 0.132, 0.1, 0.09]),
    (5775, [0.33, 0.233, 0.204, 0.15, 0.133, 0.099, 0.09, 0.068]),
    (5825, [0.245, 0.215, 0.155, 0.137, 0.102, 0.092, 0.069, 0.063]),
    (5875, [0.31, 0.214, 0.185, 0.133, 0.119, 0.088, 0.079, 0.059]),
    (5925, [0.38, 0.33, 0.233, 0.205, 0.15, 0.134, 0.1, 0.09]),
    (5975, [0.53, 0.37, 0.325, 0.238, 0.21, 0.156, 0.139, 0.104]),
    (6025, [0.46, 0.4, 0.285, 0.255, 0.19, 0.168, 0.125, 0.112]),
    (6075, [0.44, 0.315, 0.278, 0.204, 0.181, 0.134, 0.12, 0.09]),
    (6125, [0.315, 0.278, 0.205, 0.182, 0.136, 0.121, 0.092, 0.082]),
    (6175, [0.305, 0.22, 0.195, 0.146, 0.13, 0.099, 0.089, 0.067]),
    (6225, [0.245, 0.215, 0.158, 0.141, 0.106, 0.096, 0.073, 0.066]),
    (6275, [0.245, 0.175, 0.155, 0.116, 0.104, 0.079, 0.072, 0.054]),
    (6325, [0.23, 0.2, 0.145, 0.13, 0.097, 0.088, 0.067, 0.06]),
    (6375, [0.275, 0.196, 0.172, 0.127, 0.114, 0.086, 0.078, 0.058]),
    (6425, [0.275, 0.24, 0.171, 0.15, 0.111, 0.099, 0.075, 0.067]),
    (6475, [0.33, 0.23, 0.2, 0.145, 0.128, 0.096, 0.086, 0.064]),
    (6525, [0.265, 0.23, 0.168, 0.147, 0.11, 0.098, 0.074, 0.066]),
    (6575, [0.255, 0.182, 0.16, 0.118, 0.105, 0.079, 0.071, 0.053]),
    (6625, [0.235, 0.204, 0.149, 0.131, 0.098, 0.088, 0.066, 0.059]),
    (6675, [0.285, 0.2, 0.175, 0.129, 0.115, 0.086, 0.077, 0.058]),
    (6725, [0.245, 0.215, 0.156, 0.137, 0.102, 0.092, 0.069, 0.062]),
    (6775, [0.245, 0.172, 0.15, 0.111, 0.099, 0.075, 0.067, 0.05]),
    (6825, [0.2, 0.173, 0.125, 0.11, 0.082, 0.074, 0.056, 0.05]),
    (6875, [0.215, 0.148, 0.129, 0.094, 0.084, 0.063, 0.057, 0.043]),
    (6925, [0.205, 0.177, 0.127, 0.111, 0.082, 0.073, 0.055, 0.049]),
    (6975, [0.275, 0.187, 0.158, 0.114, 0.1, 0.074, 0.066, 0.05]),
    (7025, [0.235, 0.2, 0.14, 0.122, 0.089, 0.079, 0.059, 0.053]),
    (7075, [0.29, 0.193, 0.162, 0.115, 0.1, 0.073, 0.065, 0.049]),
    (7125, [0.27, 0.228, 0.155, 0.132, 0.094, 0.082, 0.06, 0.053]),
    (7175, [0.255, 0.172, 0.146, 0.104, 0.09, 0.066, 0.058, 0.044]),
    (7225, [0.2, 0.169, 0.119, 0.104, 0.076, 0.067, 0.05, 0.044]),
    (7275, [0.235, 0.163, 0.14, 0.101, 0.089, 0.065, 0.058, 0.043]),
    (7325, [0.225, 0.195, 0.138, 0.121, 0.088, 0.078, 0.058, 0.051]),
    (7375, [0.275, 0.19, 0.165, 0.119, 0.104, 0.077, 0.068, 0.051]),
    (7425, [0.265, 0.227, 0.161, 0.14, 0.102, 0.09, 0.067, 0.06]),
    (7475, [0.285, 0.2, 0.174, 0.126, 0.111, 0.082, 0.073, 0.054]),
    (7525, [0.225, 0.198, 0.143, 0.126, 0.092, 0.082, 0.061, 0.055]),
    (7575, [0.235, 0.163, 0.14, 0.101, 0.088, 0.065, 0.058, 0.043]),
    (7625, [0.205, 0.175, 0.123, 0.105, 0.076, 0.066, 0.049, 0.043]),
    (7675, [0.265, 0.178, 0.147, 0.103, 0.087, 0.063, 0.055, 0.041]),
    (7725, [0.265, 0.21, 0.142, 0.116, 0.081, 0.068, 0.049, 0.043]),
    (7775, [0.31, 0.196, 0.156, 0.103, 0.084, 0.058, 0.05, 0.036]),
    (7825, [0.245, 0.2, 0.134, 0.111, 0.077, 0.066, 0.047, 0.041]),
    (7875, [0.245, 0.17, 0.147, 0.106, 0.093, 0.068, 0.061, 0.045]),
    (7925, [0.215, 0.194, 0.143, 0.128, 0.095, 0.085, 0.063, 0.057]),
    (7975, [0.275, 0.2, 0.179, 0.132, 0.117, 0.088, 0.079, 0.058]),
    (8025, [0.285, 0.252, 0.182, 0.161, 0.119, 0.107, 0.08, 0.072]),
    (8075, [0.36, 0.255, 0.222, 0.163, 0.145, 0.108, 0.097, 0.072]),
    (8125, [0.36, 0.315, 0.225, 0.197, 0.145, 0.13, 0.096, 0.087]),
    (8175, [0.45, 0.315, 0.272, 0.196, 0.173, 0.127, 0.113, 0.084]),
    (8225, [0.4, 0.345, 0.245, 0.213, 0.157, 0.138, 0.103, 0.092]),
    (8275, [0.36, 0.26, 0.227, 0.168, 0.15, 0.112, 0.1, 0.076]),
    (8325, [0.275, 0.243, 0.18, 0.161, 0.121, 0.11, 0.083, 0.075]),
    (8375, [0.315, 0.229, 0.202, 0.151, 0.135, 0.103, 0.093, 0.07]),
    (8425, [0.265, 0.235, 0.174, 0.156, 0.117, 0.106, 0.08, 0.072]),
    (8475, [0.275, 0.199, 0.176, 0.132, 0.119, 0.09, 0.081, 0.061]),
    (8525, [0.255, 0.223, 0.165, 0.147, 0.111, 0.1, 0.075, 0.068]),
    (8575, [0.305, 0.22, 0.194, 0.145, 0.13, 0.098, 0.088, 0.067]),
    (8625, [0.305, 0.262, 0.191, 0.169, 0.126, 0.113, 0.085, 0.076]),
    (8675, [0.335, 0.24, 0.207, 0.152, 0.135, 0.1, 0.09, 0.068]),
    (8725, [0.265, 0.232, 0.169, 0.15, 0.111, 0.1, 0.075, 0.067]),
    (8775, [0.275, 0.196, 0.171, 0.127, 0.114, 0.085, 0.077, 0.058]),
    (8825, [0.245, 0.216, 0.159, 0.141, 0.106, 0.095, 0.072, 0.064]),
    (8875, [0.295, 0.213, 0.187, 0.14, 0.125, 0.094, 0.085, 0.064]),
    (8925, [0.275, 0.241, 0.178, 0.158, 0.118, 0.107, 0.08, 0.072]),
    (8975, [0.315, 0.227, 0.199, 0.148, 0.132, 0.1, 0.09, 0.068]),
    (9025, [0.295, 0.256, 0.189, 0.167, 0.125, 0.113, 0.085, 0.076]),
    (9075, [0.36, 0.258, 0.225, 0.166, 0.147, 0.111, 0.1, 0.074]),
    (9125, [0.35, 0.305, 0.22, 0.194, 0.143, 0.128, 0.096, 0.087]),
    (9175, [0.38, 0.272, 0.237, 0.174, 0.154, 0.115, 0.103, 0.077]),
    (9225, [0.305, 0.265, 0.194, 0.171, 0.127, 0.113, 0.085, 0.076]),
    (9275, [0.305, 0.22, 0.192, 0.141, 0.126, 0.095, 0.085, 0.064]),
    (9325, [0.305, 0.262, 0.19, 0.167, 0.124, 0.11, 0.083, 0.074]),
    (9375, [0.41, 0.286, 0.246, 0.178, 0.156, 0.116, 0.103, 0.077]),
    (9425, [0.44, 0.37, 0.26, 0.223, 0.163, 0.143, 0.107, 0.094]),
    (9475, [0.47, 0.325, 0.275, 0.2, 0.175, 0.129, 0.114, 0.086]),
]

all_columns = measured_columns + measured_columns_dense
measured_x = [cx for cx, ys in all_columns for _ in ys]
measured_y = [y for cx, ys in all_columns for y in ys]

x_ticks = [0, 1000, 2000, 3000, 4000, 5000, 6000, 7000, 8000, 9000, 10000]
x_tick_text = ["0", "1000", "2000", "3000", "4000", "5000", "6000", "7000", "8000", "9000", "10000"]
y_ticks = [0.01, 0.02, 0.03, 0.04, 0.05, 0.06, 0.07, 0.08, 0.09,
           0.1, 0.2, 0.3, 0.4, 0.5, 0.6, 0.7, 0.8, 0.9, 1]
y_tick_text = ["0,01", "", "", "", "", "", "", "", "",
               "0,1", "", "", "", "", "", "", "", "", "1"]
scale_labels = ["1.00", "0.50", "0.10", "0.05", "0.01"]

# ---------------- style: background colour bands (upper y edges) ----------------
band_tops = [1.163, 1.0, 0.9, 0.8, 0.7, 0.6, 0.5, 0.391, 0.313, 0.262, 0.22, 0.193, 0.161,
             0.135, 0.113, 0.0974, 0.083, 0.0695, 0.0582, 0.0488, 0.0402, 0.0313, 0.0263,
             0.021, 0.0176]
band_bottom = 0.0145
band_colors = ["#ccff00", "#b3ff00", "#99f500", "#66e600", "#33d600", "#00cc00", "#00c41a",
               "#00c040", "#10c070", "#20c896", "#1ec8c8", "#22c8ee", "#2ab4f0", "#30a0e6",
               "#348cdc", "#3a7ad0", "#3c68c4", "#3a56b4", "#3442a0", "#2e2890", "#2c1a7c",
               "#3c0c78", "#560a70", "#720a7c", "#8c0c96"]

X0_BG, X1_BG = 100, 9400

shapes = []
for i, top in enumerate(band_tops):
    bot = band_tops[i + 1] if i + 1 < len(band_tops) else band_bottom
    shapes.append(dict(type="rect", xref="x", yref="y", x0=X0_BG, x1=X1_BG, y0=bot, y1=top,
                       fillcolor=band_colors[i], line=dict(width=0), layer="below"))
# black scale panel on the right
shapes.append(dict(type="rect", xref="paper", yref="paper", x0=0.9453, x1=1.03, y0=0.004, y1=1.0,
                   fillcolor="black", line=dict(width=0), layer="below"))
shapes.append(dict(type="line", xref="paper", yref="paper", x0=0.9453, x1=0.9453, y0=0.004, y1=1.0,
                   line=dict(color="#9a9a9a", width=1), layer="below"))
# small tick marks of the scale panel
for y0p, y1p in [(0.9683, 0.9907), (0.0112, 0.0391)]:
    shapes.append(dict(type="line", xref="paper", yref="paper", x0=0.9475, x1=0.9475, y0=y0p, y1=y1p,
                       line=dict(color="#c0c0c0", width=1), layer="above"))
for yp in [0.9683, 0.8231, 0.4842, 0.3389, 0.0112]:
    shapes.append(dict(type="line", xref="paper", yref="paper", x0=0.9475, x1=0.953, y0=yp, y1=yp,
                       line=dict(color="#c0c0c0", width=1), layer="above"))
# thick black bar at the bottom of the coloured field
shapes.append(dict(type="rect", xref="x", yref="y", x0=X0_BG, x1=X1_BG, y0=0.0101, y1=0.01045,
                   fillcolor="black", line=dict(width=0), layer="below"))
# solid line at 1
shapes.append(dict(type="line", xref="paper", yref="y", x0=0, x1=1, y0=1, y1=1,
                   line=dict(color="#707070", width=1), layer="above"))
# right border inside black panel
shapes.append(dict(type="line", xref="paper", yref="paper", x0=1, x1=1, y0=0, y1=0.968,
                   line=dict(color="#9a9a9a", width=1), layer="above"))
# left axis line (from 0.01 to 1)
shapes.append(dict(type="line", xref="paper", yref="paper", x0=0, x1=0, y0=0, y1=0.968,
                   line=dict(color="#808080", width=2), layer="above"))

fig = go.Figure()
fig.add_trace(go.Scatter(x=measured_x, y=measured_y, mode="markers", name="Measured",
                         marker=dict(symbol="cross-thin", size=6,
                                     line=dict(width=1, color="#c4c4c4")),
                         cliponaxis=False, showlegend=False))
fig.add_trace(go.Scatter(x=proc_x, y=proc_y, mode="lines", name="Processed",
                         line=dict(color="#ffff00", width=5, shape="spline", smoothing=1.0),
                         cliponaxis=False, showlegend=False))
fig.add_trace(go.Scatter(x=fluor_x, y=fluor_y, mode="markers", name="Fluorometric",
                         marker=dict(symbol="diamond", size=10, color="#ff00ff",
                                     line=dict(width=0)),
                         showlegend=False))

annotations = []
# scale labels in the black panel
label_y_paper = [0.9777, 0.8361, 0.4953, 0.3501, 0.0316]
for txt, yp in zip(scale_labels, label_y_paper):
    annotations.append(dict(text=txt, xref="paper", yref="paper", x=0.952, y=yp,
                            xanchor="left", yanchor="middle", showarrow=False,
                            font=dict(family="DejaVu Sans Mono", size=18, color="white")))
# legend drawn as text
leg_y = -0.0875
legend_items = [("+", "#a0a0a0", 10, 0.3515, "Measured", 0.3567),
                ("●", "#f0f000", 8, 0.4565, "Processed", 0.4618),
                ("◆", "#ff00ff", 12, 0.5925, "Fluorometric", 0.5985)]
for sym, col, sz, xs, txt, xt in legend_items:
    annotations.append(dict(text=sym, xref="paper", yref="paper", x=xs, y=leg_y,
                            xanchor="center", yanchor="middle", showarrow=False,
                            font=dict(family="DejaVu Sans", size=sz, color=col)))
    annotations.append(dict(text=txt, xref="paper", yref="paper", x=xt, y=leg_y,
                            xanchor="left", yanchor="middle", showarrow=False,
                            font=dict(family="Liberation Serif", size=12, color="#222222")))

fig.update_layout(
    width=982, height=603,
    margin=dict(l=47, r=21, t=12, b=54, autoexpand=False),
    paper_bgcolor="white", plot_bgcolor="white",
    shapes=shapes, annotations=annotations,
    showlegend=False,
    xaxis=dict(range=[0, 10000], tickvals=x_ticks, ticktext=x_tick_text, ticks="outside", ticklen=4,
               tickcolor="#808080", showgrid=False, zeroline=False, automargin=False,
               showline=True, linecolor="#808080", linewidth=2,
               tickfont=dict(family="Liberation Sans", size=14, color="#505050")),
    yaxis=dict(type="log", range=[-2, 0.0654], tickvals=y_ticks, ticktext=y_tick_text,
               ticks="outside", ticklen=5, tickcolor="#404040", automargin=False,
               showgrid=True, gridcolor="black", gridwidth=1, griddash="4px,3px",
               zeroline=False, showline=False,
               tickfont=dict(family="Liberation Sans", size=14, color="#404040")),
)

fig.write_html("out.html")
